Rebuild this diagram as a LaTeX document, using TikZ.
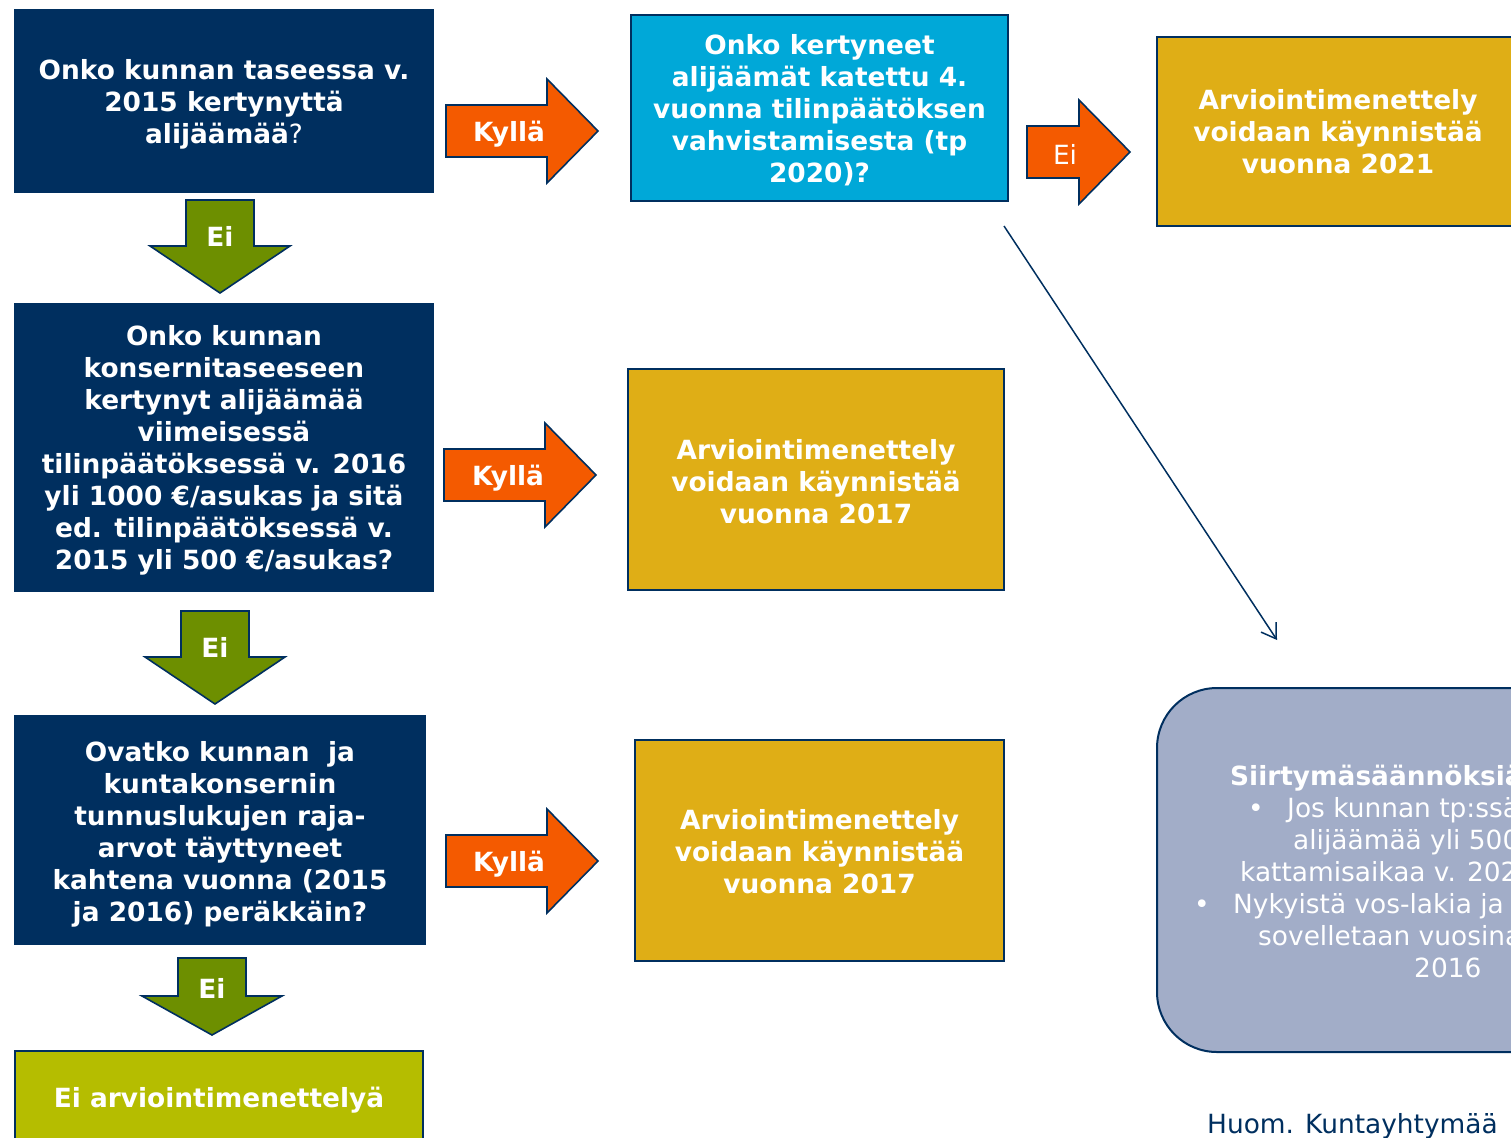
\documentclass[tikz,border=0pt]{standalone}
\usepackage{fontspec}
\setmainfont{DejaVu Sans}
\usetikzlibrary{arrows.meta}
\definecolor{navy}{HTML}{002F5F}
\definecolor{cyanbox}{HTML}{00A8D8}
\definecolor{goldbox}{HTML}{DFAE16}
\definecolor{olivebox}{HTML}{B5BD00}
\definecolor{greenarr}{HTML}{6D8F00}
\definecolor{orangearr}{HTML}{F45A00}
\definecolor{lavbox}{HTML}{A2ADC8}
\newcommand\rblk[4]{\path[orangeshape] (#1,#2) ++(0,-26) -- ++(#3,0) -- ++(0,-26) -- ++(#4,52) -- ++(-#4,52) -- ++(0,-26) -- ++(-#3,0) -- cycle;}
\newcommand\dblk[4]{\path[greenshape] (#1,#2) ++(-34,0) -- ++(68,0) -- ++(0,#3) -- ++(36,0) -- ++(-70,#4) -- ++(-70,-#4) -- ++(36,0) -- cycle;}
\begin{document}
\begin{tikzpicture}[x=1pt,y=-1pt,
  boxbase/.style={draw=navy, line width=2pt, text=white, align=center, inner sep=0pt,
    font=\bfseries\fontsize{26.4}{32}\selectfont},
  navybox/.style={boxbase, fill=navy},
  cyanbx/.style={boxbase, fill=cyanbox},
  goldbx/.style={boxbase, fill=goldbox},
  olivebx/.style={boxbase, fill=olivebox},
  boxtext/.style={text=white, align=center, inner sep=0pt, font=\bfseries\fontsize{26.4}{32}\selectfont},
  orangeshape/.style={draw=navy, line width=1.6pt, fill=orangearr, line join=miter},
  greenshape/.style={draw=navy, line width=1.6pt, fill=greenarr, line join=miter},
  arrlabel/.style={text=white, inner sep=0pt, font=\bfseries\fontsize{26.4}{32}\selectfont},
  plainlabel/.style={text=white, inner sep=0pt, font=\fontsize{26.4}{32}\selectfont},
  lavtext/.style={text=white, inner sep=0pt, anchor=base west, font=\fontsize{26.4}{32}\selectfont},
]
\useasboundingbox (0,0) rectangle (1511,1137);
\clip (0,0) rectangle (1511,1137);

% left column
\node[navybox, minimum width=418, minimum height=182] (q1) at (224,101) {};
\node[boxtext, yshift=-3pt] (q1t) at (q1.center)
  {Onko kunnan taseessa v.\\2015 kertynyttä\\alijäämää{\mdseries ?}};
\node[navybox, minimum width=418, minimum height=287] (q2) at (224,447.5) {};
\node[boxtext, yshift=-3pt] (q2t) at (q2.center)
  {Onko kunnan\\konsernitaseeseen\\kertynyt alijäämää\\viimeisessä\\tilinpäätöksessä v. 2016\\yli 1000 €/asukas ja sitä\\ed. tilinpäätöksessä v.\\2015 yli 500 €/asukas?};
\node[navybox, minimum width=410, minimum height=228] (q3) at (220,830) {};
\node[boxtext, yshift=-4pt] (q3t) at (q3.center)
  {Ovatko kunnan~ ja\\kuntakonsernin\\tunnuslukujen raja-\\arvot täyttyneet\\kahtena vuonna (2015\\ja 2016) peräkkäin?};
\node[olivebx, minimum width=408, minimum height=100] (r4) at (219,1101) {};
\node[boxtext] (r4t) at (219,1100) {Ei arviointimenettelyä};

% middle column
\node[cyanbx, minimum width=377, minimum height=186] (q4) at (819.5,108) {};
\node[boxtext, yshift=-2pt] (q4t) at (q4.center)
  {Onko kertyneet\\alijäämät katettu 4.\\vuonna tilinpäätöksen\\vahvistamisesta (tp\\2020)?};
\node[goldbx, minimum width=376, minimum height=221] (r2) at (816,479.5) {};
\node[boxtext, yshift=-2pt] (r2t) at (r2.center)
  {Arviointimenettely\\voidaan käynnistää\\vuonna 2017};
\node[goldbx, minimum width=369, minimum height=221] (r3) at (819.5,850.5) {};
\node[boxtext, yshift=-1pt] (r3t) at (r3.center)
  {Arviointimenettely\\voidaan käynnistää\\vuonna 2017};

% right column
\node[goldbx, minimum width=362, minimum height=189] (r1) at (1338,131.5)
  {Arviointimenettely\\voidaan käynnistää\\vuonna 2021};
\node[boxbase, fill=lavbox, rounded corners=60pt, minimum width=580, minimum height=364] (note) at (1447,870) {};
\node[lavtext, font=\bfseries\fontsize{26.4}{32}\selectfont] (n1) at (1230,785) {Siirtymäsäännöksiä};
\node[lavtext] (b1) at (1248,817) {•};
\node[lavtext] (n2) at (1287,817) {Jos kunnan tp:ssä};
\node[lavtext] (n3) at (1293,849) {alijäämää yli 500};
\node[lavtext] (n4) at (1240,881) {kattamisaikaa v. 2020};
\node[lavtext] (b2) at (1194,913) {•};
\node[lavtext] (n5) at (1233,913) {Nykyistä vos-lakia ja};
\node[lavtext] (n6) at (1258,945) {sovelletaan vuosina};
\node[lavtext] (n7) at (1414,977) {2016};

\node[inner sep=0pt, anchor=base west, text=navy, font=\fontsize{26.4}{32}\selectfont] (huom) at (1207,1133) {Huom. Kuntayhtymää};

% block arrows
\dblk{220}{200}{46}{47}
\node[arrlabel] (ei1) at (220,236) {Ei};
\dblk{215}{611}{46}{47}
\node[arrlabel] (ei2) at (215,647) {Ei};
\dblk{212}{958}{38}{39}
\node[arrlabel] (ei3) at (212,988) {Ei};

\rblk{446}{131}{101}{51}
\node[arrlabel] (k1) at (509,134) {Kyllä};
\rblk{444}{475}{101}{51}
\node[arrlabel] (k2) at (508,478) {Kyllä};
\rblk{446}{861}{101}{51}
\node[arrlabel] (k3) at (509,864) {Kyllä};
\rblk{1027}{152}{52}{51}
\node[plainlabel] (ei4) at (1065,154) {Ei};

% thin connector
\coordinate (ls) at (1004,226);
\coordinate (le) at (1277,640);
\draw[navy, line width=1.5pt, -{Straight Barb[length=14pt, width=18pt, line width=1.5pt]}] (ls) -- (le);
\end{tikzpicture}
\end{document}
